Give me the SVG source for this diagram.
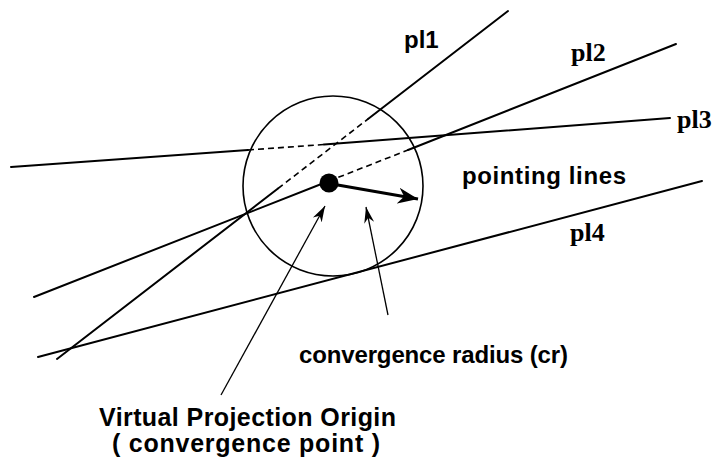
<svg xmlns="http://www.w3.org/2000/svg" width="715" height="464" viewBox="0 0 715 464">
<style>
.ln{stroke:#000;stroke-width:2;fill:none;stroke-linecap:round}
.dash{stroke:#000;stroke-width:1.6;fill:none;stroke-dasharray:6 4}
.thin{stroke:#000;stroke-width:1.3;fill:none}
.sans{font-family:"Liberation Sans",Arial,sans-serif;font-weight:bold;fill:#000}
.serif{font-family:"Liberation Serif","Times New Roman",serif;font-weight:bold;fill:#000}
</style>
<defs>
<marker id="big" markerUnits="userSpaceOnUse" markerWidth="24" markerHeight="18" refX="20" refY="8" orient="auto" viewBox="0 0 24 16">
<path d="M0,0 L20,8 L0,16 L6,8 Z" fill="#000"/>
</marker>
<marker id="sm" markerUnits="userSpaceOnUse" markerWidth="18" markerHeight="12" refX="16" refY="5" orient="auto" viewBox="0 0 18 10">
<path d="M0,0 L16,5 L0,10 L5,5 Z" fill="#000"/>
</marker>
</defs>
<g id="circle">
<circle cx="333" cy="186" r="90" fill="none" stroke="#000" stroke-width="1.6"/>
</g>
<g id="connectors">
<line class="ln" x1="57" y1="359" x2="278" y2="188.5"/>
<line class="dash" x1="278" y1="188.5" x2="368" y2="119"/>
<line class="ln" x1="368" y1="119" x2="508" y2="11"/>
<line class="ln" x1="34" y1="297" x2="329" y2="181"/>
<line class="dash" x1="329" y1="181" x2="408" y2="150"/>
<line class="ln" x1="408" y1="150" x2="676" y2="44"/>
<line class="ln" x1="11" y1="167" x2="248" y2="150"/>
<line class="dash" x1="248" y1="150" x2="324" y2="144.5"/>
<line class="ln" x1="324" y1="144.5" x2="670" y2="118"/>
<line class="ln" x1="38" y1="357" x2="702" y2="181"/>
<line x1="332" y1="184" x2="418" y2="199" stroke="#000" stroke-width="3" marker-end="url(#big)"/>
<line class="thin" x1="221" y1="395" x2="325" y2="206" marker-end="url(#sm)"/>
<line class="thin" x1="388" y1="315" x2="366" y2="207" marker-end="url(#sm)"/>
</g>
<g id="origin">
<circle cx="329" cy="183" r="9.5" fill="#000"/>
</g>
<g id="labels">
<text class="sans" x="404" y="48" font-size="24">pl1</text>
<text class="serif" x="571" y="61" font-size="26">pl2</text>
<text class="serif" x="677" y="128" font-size="26">pl3</text>
<text class="serif" x="570" y="241" font-size="26">pl4</text>
<text class="sans" x="462" y="184" font-size="24" textLength="164" lengthAdjust="spacing">pointing lines</text>
<text class="sans" x="299" y="363" font-size="24" textLength="269" lengthAdjust="spacing">convergence radius (cr)</text>
<text class="sans" x="99" y="426" font-size="25" textLength="297" lengthAdjust="spacing">Virtual Projection Origin</text>
<text class="sans" x="112" y="452" font-size="25" textLength="268" lengthAdjust="spacing">( convergence point )</text>
</g>
</svg>
